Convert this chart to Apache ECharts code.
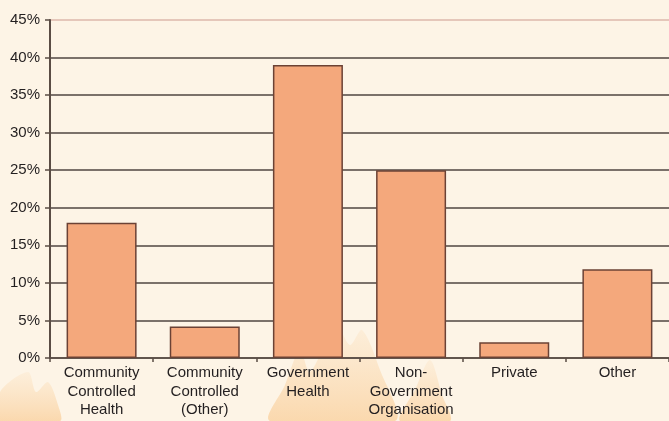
<!DOCTYPE html>
<html>
<head>
<meta charset="utf-8">
<script src="https://cdn.jsdelivr.net/npm/echarts@6/dist/echarts.min.js"></script>
<style>
html,body{margin:0;padding:0;background:#fdf4e6;}
#chart{width:669px;height:421px;}
</style>
</head>
<body>
<div id="chart"></div>
<script>
const categories = ["Community\nControlled\nHealth", "Community\nControlled\n(Other)", "Government\nHealth", "Non-\nGovernment\nOrganisation", "Private", "Other"];
const values = [18.0, 4.2, 39.0, 25.0, 2.1, 11.8];
const yTicks = [0, 5, 10, 15, 20, 25, 30, 35, 40, 45];

const chart = echarts.init(document.getElementById('chart'), null, {renderer: 'canvas'});
const gridColors = yTicks.map((v, i) => i === yTicks.length - 1 ? '#dcb9ab' : '#4f4641');
function flameFill() {
  return new echarts.graphic.LinearGradient(0, 0, 0, 1, [
    {offset: 0, color: 'rgba(250,205,150,0.15)'},
    {offset: 1, color: 'rgba(248,190,120,0.55)'}
  ]);
}
chart.setOption({
  backgroundColor: '#fdf4e6',
  animation: false,
  graphic: [
    {type: 'polygon', z: -10, silent: true,
     shape: {points: [[270,421],[285,385],[300,350],[310,372],[336,325],[350,345],[362,330],[380,370],[395,421]], smooth: 0.3},
     style: {fill: flameFill()}},
    {type: 'polygon', z: -10, silent: true,
     shape: {points: [[400,421],[415,390],[430,360],[442,395],[450,421]], smooth: 0.3},
     style: {fill: flameFill()}},
    {type: 'polygon', z: -10, silent: true,
     shape: {points: [[0,421],[0,392],[28,372],[36,392],[48,382],[58,405],[60,421]], smooth: 0.3},
     style: {fill: flameFill()}}
  ],
  grid: {left: 50, top: 20, width: 620, height: 338, containLabel: false},
  xAxis: {
    type: 'category',
    data: categories,
    axisLine: {lineStyle: {color: '#5a4c44', width: 1.5}},
    axisTick: {show: true, length: 4, lineStyle: {color: '#5a4c44', width: 1.5}},
    axisLabel: {
      color: '#231f20',
      fontFamily: '"Liberation Sans", Arial, sans-serif',
      fontSize: 15,
      lineHeight: 18.5,
      margin: 6,
      interval: 0
    }
  },
  yAxis: {
    type: 'value',
    min: 0, max: 45, interval: 5,
    axisLine: {show: true, lineStyle: {color: '#5a4c44', width: 2}},
    axisTick: {show: true, length: 5, lineStyle: {color: '#5a4c44', width: 1.5}},
    axisLabel: {
      color: '#231f20',
      fontFamily: '"Liberation Sans", Arial, sans-serif',
      fontSize: 15,
      margin: 10,
      formatter: v => v + '%'
    },
    splitLine: {show: true, lineStyle: {color: gridColors, width: 1.5}}
  },
  series: [{
    type: 'bar',
    data: values,
    barWidth: 70,
    itemStyle: {color: '#f4a87c', borderColor: '#6b4235', borderWidth: 1.5}
  }]
});
</script>
</body>
</html>
